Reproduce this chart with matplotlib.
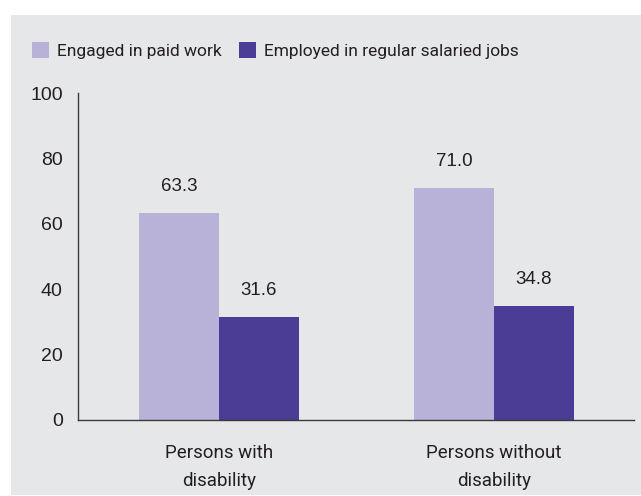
import numpy as np
import matplotlib.pyplot as plt
from matplotlib.patches import Rectangle

# Data
groups = ["Persons with\ndisability", "Persons without\ndisability"]
paid_work = [63.3, 71.0]
salaried = [31.6, 34.8]
series_names = ["Engaged in paid work", "Employed in regular salaried jobs"]

light = "#b9b2d8"
dark = "#4b3c96"
bg = "#e6e7e9"
txt = "#231f20"
narrow = ["Roboto", "DejaVu Sans"]

fig = plt.figure(figsize=(6.41, 4.96), dpi=100)
fig.patch.set_facecolor("white")

# grey panel behind everything
fig.patches.append(Rectangle((11 / 641, 1 / 496), 630 / 641, 480 / 496,
                             transform=fig.transFigure, facecolor=bg,
                             edgecolor="none", zorder=-5))

ax = fig.add_axes([78 / 641, 76 / 496, 556 / 641, 327 / 496])
ax.set_facecolor("none")
ax.set_zorder(2)

x = np.arange(len(groups))
w = 0.29
b1 = ax.bar(x - w / 2, paid_work, w, color=light, label=series_names[0])
b2 = ax.bar(x + w / 2, salaried, w, color=dark, label=series_names[1])

for bars in (b1, b2):
    for rect in bars:
        ax.annotate(f"{rect.get_height():.1f}",
                    (rect.get_x() + rect.get_width() / 2, rect.get_height()),
                    xytext=(0, 13), textcoords="offset points",
                    ha="center", va="bottom", fontsize=13.5, color=txt,
                    family="Liberation Sans")

ax.set_xlim(-0.513, 1.509)
ax.set_ylim(0, 100)
ax.set_yticks([0, 20, 40, 60, 80, 100])
ax.set_xticks(x)
ax.set_xticklabels(groups, fontsize=13.5, color=txt, linespacing=1.75,
                   family=narrow)
ax.tick_params(axis="x", length=0, pad=17)
ax.tick_params(axis="y", length=0, pad=11, labelsize=14, labelcolor=txt)
for lab in ax.get_yticklabels():
    lab.set_family("Liberation Sans")

for s in ("top", "right"):
    ax.spines[s].set_visible(False)
for s in ("left", "bottom"):
    ax.spines[s].set_color("#3a3a3a")
    ax.spines[s].set_linewidth(1.0)

leg = fig.legend(handles=[b1, b2], labels=series_names, loc="upper left",
                 bbox_to_anchor=(16 / 641, 1 - 26 / 496), ncol=2, frameon=False,
                 handlelength=1.0, handleheight=1.05, handletextpad=0.45,
                 columnspacing=1.0,
                 prop={"family": narrow, "size": 12.5})
for t in leg.get_texts():
    t.set_color(txt)

fig.savefig("out.png", dpi=100)
